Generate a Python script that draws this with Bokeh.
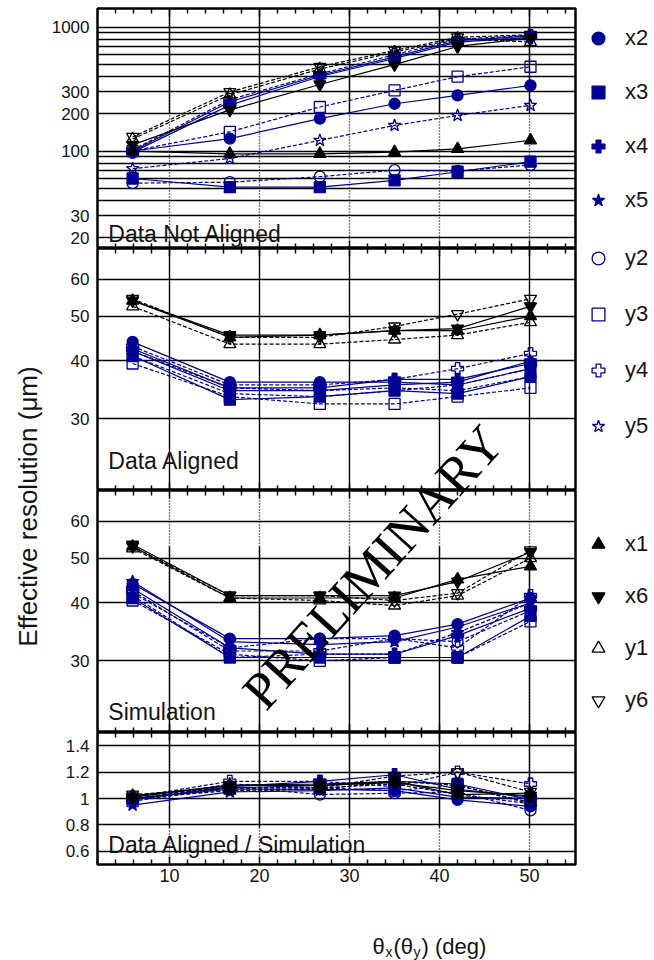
import math
from bokeh.plotting import figure
from bokeh.models import (Range1d, FixedTicker, LinearAxis, Label, Legend,
                          LegendItem, GridBox, Grid)
from bokeh.embed import file_html
from bokeh.resources import INLINE

# ---------------- data ----------------
theta = [5.9, 16.7, 26.7, 35.0, 42.0, 50.1]

x_ticks = [10, 20, 30, 40, 50]
x_tick_labels = ["10", "20", "30", "40", "50"]
x_minor = [2, 4, 6, 8, 12, 14, 16, 18, 22, 24, 26, 28, 32, 34, 36, 38,
           42, 44, 46, 48, 52, 54]

# panel 1 : Data Not Aligned
na_x1 = [100, 95, 95, 98, 104, 122]
na_x2 = [100, 126, 183, 241, 282, 339]
na_x3 = [60, 51, 51, 58, 68, 82]
na_x4 = [98, 235, 400, 560, 760, 830]
na_x5 = [100, 250, 410, 577, 780, 850]
na_x6 = [112, 215, 345, 500, 700, 820]
na_y1 = [125, 285, 460, 630, 810, 760]
na_y2 = [55, 56, 62, 70, 69, 77]
na_y3 = [100, 143, 227, 309, 399, 480]
na_y4 = [102, 260, 420, 600, 800, 860]
na_y5 = [72, 87, 122, 161, 194, 234]
na_y6 = [130, 300, 480, 650, 830, 870]

# panel 2 : Data Aligned
al_x1 = [54, 45, 45.5, 46.5, 46.5, 50]
al_x2 = [44, 36, 36, 36, 35.5, 38.5]
al_x3 = [41, 33, 33.5, 34.5, 34, 37]
al_x4 = [42.5, 35, 35, 36.5, 36.5, 39.5]
al_x5 = [42, 34.5, 34.5, 35.5, 36, 40]
al_x6 = [54, 45.5, 45.5, 46.5, 47, 52.5]
al_y1 = [52.5, 43.5, 43.5, 44.5, 45.5, 48.5]
al_y2 = [42, 35, 34.5, 35, 34.5, 37]
al_y3 = [39.5, 33.5, 32.3, 32.3, 33.5, 35]
al_y4 = [43, 35.5, 35.5, 36.5, 38.5, 41.5]
al_y5 = [41, 34, 33.5, 34.5, 35.5, 38.5]
al_y6 = [54.5, 45, 45, 47.5, 50.5, 54.5]

# panel 3 : Simulation
si_x1 = [53, 41, 41, 41, 45, 48]
si_x2 = [44, 33.5, 33.5, 34, 36, 41]
si_x3 = [41, 30.5, 30.5, 30.5, 30.5, 37.5]
si_x4 = [43, 32, 31, 31, 34, 39]
si_x5 = [44.5, 33, 32.5, 33, 35.5, 40]
si_x6 = [53.5, 41.5, 41.5, 41.5, 44.5, 51.5]
si_y1 = [52.5, 41, 40.5, 39.5, 41.5, 50]
si_y2 = [42, 32, 33.5, 33.5, 33, 38.5]
si_y3 = [40.5, 31, 30, 30.5, 30.5, 36.5]
si_y4 = [42.5, 31.5, 31.5, 33.5, 32, 41.5]
si_y5 = [41.5, 30.5, 31, 31, 34.5, 40]
si_y6 = [53, 41.5, 41.5, 40.5, 42, 52]

# panel 4 : Data Aligned / Simulation
ra_x1 = [1.02, 1.10, 1.11, 1.13, 1.03, 1.04]
ra_x2 = [1.00, 1.07, 1.07, 1.06, 0.99, 0.94]
ra_x3 = [1.00, 1.08, 1.10, 1.13, 1.11, 0.99]
ra_x4 = [0.99, 1.09, 1.13, 1.18, 1.07, 1.01]
ra_x5 = [0.95, 1.05, 1.06, 1.08, 1.01, 1.00]
ra_x6 = [1.01, 1.10, 1.10, 1.12, 1.06, 1.02]
ra_y1 = [1.00, 1.06, 1.07, 1.13, 1.10, 0.97]
ra_y2 = [1.00, 1.09, 1.03, 1.04, 1.05, 0.91]
ra_y3 = [0.98, 1.08, 1.08, 1.06, 1.10, 0.96]
ra_y4 = [1.01, 1.13, 1.13, 1.09, 1.20, 1.11]
ra_y5 = [0.99, 1.11, 1.08, 1.11, 1.03, 0.96]
ra_y6 = [1.03, 1.08, 1.08, 1.17, 1.20, 1.05]

p1_ticks = [20, 30, 100, 200, 300, 1000]
p1_tick_labels = ["20", "30", "100", "200", "300", "1000"]
p1_grid = [20, 30, 40, 50, 60, 70, 80, 90, 100, 200, 300, 400, 500,
           600, 700, 800, 900, 1000]
p23_ticks = [30, 40, 50, 60]
p23_tick_labels = ["30", "40", "50", "60"]
p4_ticks = [0.6, 0.8, 1.0, 1.2, 1.4]
p4_tick_labels = ["0.6", "0.8", "1", "1.2", "1.4"]

order = ["x2", "x3", "x4", "x5", "y2", "y3", "y4", "y5", "x1", "x6", "y1", "y6"]

# ---------------- styles ----------------
BLUE = "#000099"
BLACK = "#000000"
FONT = "Liberation Sans"
TXT = "#141414"

style = {
    "x2": ("circle", BLUE, True, 11), "x3": ("square", BLUE, True, 11),
    "x4": ("plus", BLUE, True, 12), "x5": ("star", BLUE, True, 13),
    "y2": ("circle", BLUE, False, 11), "y3": ("square", BLUE, False, 11),
    "y4": ("plus", BLUE, False, 12), "y5": ("star", BLUE, False, 13),
    "x1": ("triangle", BLACK, True, 12), "x6": ("inverted_triangle", BLACK, True, 12),
    "y1": ("triangle", BLACK, False, 12), "y6": ("inverted_triangle", BLACK, False, 12),
}

HAS_CROSS_BOUNDS = "cross_bounds" in Grid.properties()


def collect(prefix):
    g = globals()
    return {n: g[prefix + n] for n in order}


x_range = Range1d(2, 55.1)


def make_panel(data, yr, log, ticks, tick_labels, grid_ticks, text, text_y,
               frame_h, top_b, bottom_b, show_x, solid_span=None,
               legend_names=None, legend_spacing=22, legend_vy=0):
    p = figure(width=654, height=top_b + frame_h + bottom_b,
               frame_width=478, frame_height=frame_h,
               x_range=x_range, y_range=Range1d(*yr),
               y_axis_type="log" if log else "linear",
               min_border_left=97, min_border_right=79,
               min_border_top=top_b, min_border_bottom=bottom_b,
               toolbar_location=None, output_backend="svg", title=None)
    p.outline_line_color = "black"
    p.outline_line_width = 2.5
    p.background_fill_color = "white"
    p.border_fill_color = "white"

    p.xgrid.ticker = FixedTicker(ticks=x_ticks)
    p.ygrid.ticker = FixedTicker(ticks=grid_ticks)
    for g in (p.xgrid, p.ygrid):
        g.grid_line_color = "black"
        g.grid_line_width = 1.4
        g.grid_line_alpha = 1.0
    if solid_span is not None and HAS_CROSS_BOUNDS:
        # vertical grid dotted, with a solid stretch over part of the panel
        p.xgrid.grid_line_dash = "1 2"
        p.add_layout(Grid(dimension=0, ticker=FixedTicker(ticks=x_ticks),
                          cross_bounds=solid_span, grid_line_color="black",
                          grid_line_width=1.4))

    def style_x(ax):
        ax.ticker = FixedTicker(ticks=x_ticks, minor_ticks=x_minor)
        ax.axis_line_color = None
        ax.major_tick_in = 8
        ax.major_tick_out = 0
        ax.minor_tick_in = 5
        ax.minor_tick_out = 0
        ax.major_tick_line_color = "black"
        ax.minor_tick_line_color = "black"
        ax.major_tick_line_width = 1.5
        ax.minor_tick_line_width = 1.5

    xb = p.xaxis[0]
    style_x(xb)
    if show_x:
        xb.major_label_overrides = dict(zip(x_ticks, x_tick_labels))
        xb.major_label_text_font = FONT
        xb.major_label_text_font_size = "18px"
        xb.major_label_text_color = TXT
        xb.major_label_standoff = 4
    else:
        xb.fixed_location = yr[0]
        xb.major_label_text_color = None
    xa = LinearAxis(fixed_location=yr[1], major_label_text_color=None)
    style_x(xa)
    p.add_layout(xa, "above")

    ya = p.yaxis[0]
    ya.ticker = FixedTicker(ticks=ticks)
    ya.major_label_overrides = dict(zip(ticks, tick_labels))
    ya.major_tick_in = 0
    ya.major_tick_out = 0
    ya.minor_tick_line_color = None
    ya.axis_line_color = None
    ya.major_label_text_font = FONT
    ya.major_label_text_font_size = "17px"
    ya.major_label_text_color = TXT
    ya.major_label_standoff = 8

    rends = {}
    for n in order:
        marker, col, filled, size = style[n]
        vals = data[n]
        p.line(theta, vals, line_color=col, line_width=1.2,
               line_dash="solid" if n.startswith("x") else "4 2")
        r = p.scatter(theta, vals, marker=marker, size=size,
                      line_color=col, line_width=1.3,
                      fill_color=col if filled else None)
        rends[n] = r

    p.add_layout(Label(x=3.2, y=text_y, text=text, text_font=FONT,
                       text_font_size="23px", text_color=TXT,
                       text_baseline="alphabetic"))

    if legend_names:
        items = [LegendItem(label=n, renderers=[rends[n]]) for n in legend_names]
        lg = Legend(items=items, location=(7, legend_vy),
                    orientation="vertical", glyph_width=32, glyph_height=32,
                    spacing=legend_spacing, padding=0, margin=0,
                    label_standoff=11, label_text_font=FONT,
                    label_text_font_size="22px", label_text_color=TXT,
                    border_line_color=None, background_fill_alpha=0,
                    label_height=20)
        p.add_layout(lg, "right")
    return p


p1 = make_panel(collect("na_"), (16.3, 1419), True, p1_ticks, p1_tick_labels,
                p1_grid, "Data Not Aligned", 21.2, 240, 8, 0, False,
                (200, 1419), ["x2", "x3", "x4", "x5"], 22, 32)
p2 = make_panel(collect("al_"), (21, 70), True, p23_ticks, p23_tick_labels,
                p23_ticks, "Data Aligned", 24.3, 242, 0, 0, False,
                None, ["y2", "y3", "y4", "y5"], 24, 48)
p3 = make_panel(collect("si_"), (21, 70), True, p23_ticks, p23_tick_labels,
                p23_ticks, "Simulation", 23.3, 242, 0, 0, False,
                (21, 53), ["x1", "x6", "y1", "y6"], 20, 16)
p4 = make_panel(collect("ra_"), (0.5, 1.5), False, p4_ticks, p4_tick_labels,
                p4_ticks, "Data Aligned / Simulation", 0.644, 132, 0, 96, True,
                (0.78, 1.5))

# ---------------- overlay (watermark & titles), page-pixel coordinates ----
ov = figure(width=654, height=960, x_range=Range1d(0, 654),
            y_range=Range1d(960, 0), min_border=0, toolbar_location=None,
            output_backend="svg", x_axis_location=None, y_axis_location=None,
            background_fill_color=None, border_fill_color=None,
            outline_line_color=None, title=None)
ov.xgrid.visible = False
ov.ygrid.visible = False

ov.add_layout(Label(x=252, y=700, text="PRELIMINARY", angle=math.radians(48),
                    text_font="Liberation Serif", text_font_size="53px",
                    text_color="black", text_baseline="alphabetic",
                    text_align="left"))
ov.add_layout(Label(x=27, y=506, text="Effective resolution (\u03bcm)",
                    angle=math.pi / 2, text_font=FONT, text_font_size="26px",
                    text_color=TXT, text_align="center", text_baseline="middle"))

xt_parts = [("\u03b8", 372, 946, "22px"), ("x", 385, 951, "14px"),
            ("(\u03b8", 393, 946, "22px"), ("y", 413, 951, "14px"),
            (") (deg)", 421, 946, "22px")]
for t, xx, yy, fs in xt_parts:
    ov.add_layout(Label(x=xx, y=yy, text=t, text_font=FONT, text_font_size=fs,
                        text_color=TXT, text_baseline="alphabetic",
                        text_align="left"))

# panels sit in column 1 / rows 1-4; the overlay spans everything from (0,0)
# so that it is not frame-aligned with the panels.
layout = GridBox(children=[(p1, 1, 1), (p2, 2, 1), (p3, 3, 1), (p4, 4, 1),
                           (ov, 0, 0, 6, 3)])

open("out.html", "w").write(file_html(layout, INLINE))
